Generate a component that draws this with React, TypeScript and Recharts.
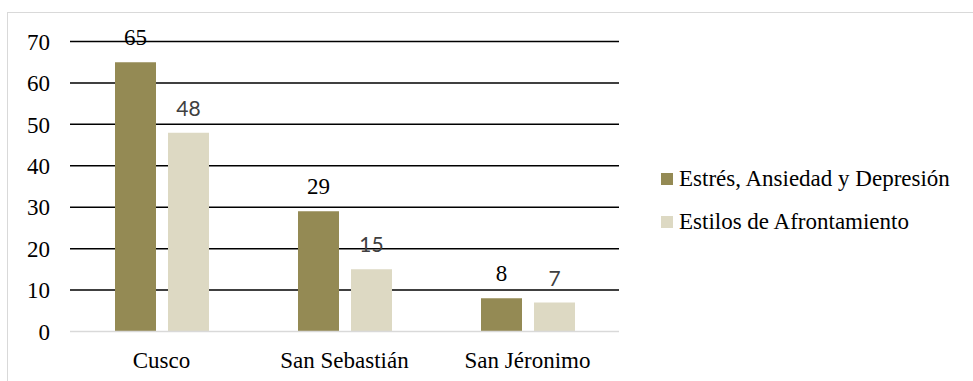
import { BarChart, Bar, XAxis, YAxis, CartesianGrid, LabelList, Legend } from "recharts";

const categories = ["Cusco", "San Sebastián", "San Jéronimo"];
const estresValues = [65, 29, 8];
const estilosValues = [48, 15, 7];
const yTicks = [0, 10, 20, 30, 40, 50, 60, 70];
const gridValues = [10, 20, 30, 40, 50, 60, 70];

const seriesNames = ["Estrés, Ansiedad y Depresión", "Estilos de Afrontamiento"];
const seriesColors = ["#948A54", "#DDD9C3"];
const SERIF = "Liberation Serif, Tinos, DejaVu Serif, Times New Roman, serif";
const SANS = "Lato, Open Sans, sans-serif";

const data = categories.map((name, i) => ({
  name,
  estres: estresValues[i],
  estilos: estilosValues[i],
}));

const renderLegend = () => (
  <div style={{ fontFamily: SERIF, fontSize: 23, color: "#000" }}>
    {seriesNames.map((n, i) => (
      <div key={n} style={{ display: "flex", alignItems: "center", height: 43 }}>
        <span
          style={{ width: 12, height: 12, background: seriesColors[i], display: "inline-block", marginRight: 6 }}
        />
        <span>{n}</span>
      </div>
    ))}
  </div>
);

export default function App() {
  return (
    <div style={{ position: "absolute", left: 0, top: 0, width: 973, height: 381, background: "#fff", overflow: "hidden" }}>
      <div
        style={{
          position: "absolute",
          left: 7,
          top: 12,
          width: 1000,
          height: 400,
          borderTop: "1px solid #D9D9D9",
          borderLeft: "1px solid #D9D9D9",
        }}
      />
      <div style={{ position: "absolute", left: 0, top: 0 }}>
        <BarChart
          width={973}
          height={381}
          data={data}
          margin={{ top: 41.5, right: 354, bottom: 0, left: 0 }}
          barGap={12}
        >
          <CartesianGrid horizontal vertical={false} horizontalValues={gridValues} stroke="#000" strokeWidth={1.5} />
          <XAxis
            dataKey="name"
            height={49.5}
            tickLine={false}
            tickSize={0}
            tickMargin={20}
            axisLine={{ stroke: "#D9D9D9", strokeWidth: 1.5 }}
            tick={{ fontFamily: SERIF, fontSize: 23, fill: "#000" }}
          />
          <YAxis
            width={70}
            domain={[0, 70]}
            ticks={yTicks}
            tickLine={false}
            tickSize={0}
            tickMargin={20}
            axisLine={false}
            tick={{ fontFamily: SERIF, fontSize: 23, fill: "#000" }}
          />
          <Legend
            layout="vertical"
            align="center"
            verticalAlign="middle"
            content={renderLegend}
            wrapperStyle={{ left: 661, top: 157.5, width: 320 }}
          />
          <Bar dataKey="estres" name={seriesNames[0]} fill={seriesColors[0]} barSize={41} isAnimationActive={false}>
            <LabelList
              dataKey="estres"
              position="top"
              offset={17.5}
              fontFamily={SERIF}
              fontSize={23}
              fill="#000"
            />
          </Bar>
          <Bar dataKey="estilos" name={seriesNames[1]} fill={seriesColors[1]} barSize={41} isAnimationActive={false}>
            <LabelList
              dataKey="estilos"
              position="top"
              offset={17}
              fontFamily={SANS}
              fontSize={21}
              fill="#404040"
            />
          </Bar>
        </BarChart>
      </div>
    </div>
  );
}
